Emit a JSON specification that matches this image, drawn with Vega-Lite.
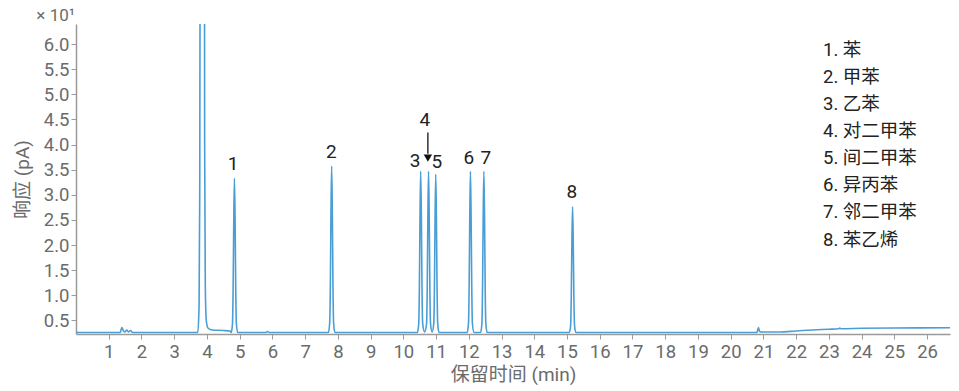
{
  "$schema": "https://vega.github.io/schema/vega-lite/v6.json",
  "width": 874,
  "height": 310,
  "autosize": {"type": "none"},
  "padding": {"left": 76, "top": 24, "right": 9, "bottom": 57},
  "config": {
    "view": {"stroke": null},
    "font": "Roboto, 'Noto Sans CJK SC'",
    "axis": {
      "labelFont": "Roboto, 'Noto Sans CJK SC'",
      "titleFont": "Roboto, 'Noto Sans CJK SC'",
      "labelFontSize": 18.5,
      "titleFontSize": 19,
      "titleFontWeight": "normal",
      "labelColor": "#6b6b6b",
      "titleColor": "#6b6b6b",
      "domainColor": "#9a9a9a",
      "tickColor": "#9a9a9a",
      "domainWidth": 1.5,
      "tickSize": 5,
      "grid": false
    }
  },
  "datasets": {
    "trace": [
      {"t": 0.0, "v": 0.26}, {"t": 1.35, "v": 0.26}, {"t": 1.4, "v": 0.36}, {"t": 1.45, "v": 0.29},
      {"t": 1.5, "v": 0.27}, {"t": 1.55, "v": 0.31}, {"t": 1.6, "v": 0.27}, {"t": 1.67, "v": 0.3},
      {"t": 1.72, "v": 0.26}, {"t": 3.72, "v": 0.26}, {"t": 3.76, "v": 0.8}, {"t": 3.78, "v": 3.0},
      {"t": 3.8, "v": 12}, {"t": 3.86, "v": 30}, {"t": 3.92, "v": 12}, {"t": 3.93, "v": 4},
      {"t": 3.95, "v": 1.2}, {"t": 3.98, "v": 0.5}, {"t": 4.03, "v": 0.35}, {"t": 4.15, "v": 0.31},
      {"t": 4.5, "v": 0.3}, {"t": 4.7, "v": 0.29}, {"t": 4.74, "v": 0.26},
      {"t": 4.78, "v": 0.43}, {"t": 4.8, "v": 1.12}, {"t": 4.82, "v": 2.5}, {"t": 4.84, "v": 3.33},
      {"t": 4.86, "v": 2.5}, {"t": 4.88, "v": 1.12}, {"t": 4.9, "v": 0.43}, {"t": 4.94, "v": 0.26},
      {"t": 5.8, "v": 0.26}, {"t": 5.85, "v": 0.28}, {"t": 5.9, "v": 0.26},
      {"t": 7.71, "v": 0.26}, {"t": 7.75, "v": 0.45}, {"t": 7.77, "v": 1.19}, {"t": 7.79, "v": 2.68},
      {"t": 7.81, "v": 3.57}, {"t": 7.83, "v": 2.68}, {"t": 7.85, "v": 1.19}, {"t": 7.87, "v": 0.45},
      {"t": 7.91, "v": 0.26},
      {"t": 10.43, "v": 0.26}, {"t": 10.47, "v": 0.44}, {"t": 10.49, "v": 1.16}, {"t": 10.51, "v": 2.6},
      {"t": 10.53, "v": 3.47}, {"t": 10.55, "v": 2.6}, {"t": 10.57, "v": 1.16}, {"t": 10.59, "v": 0.44},
      {"t": 10.65, "v": 0.27},
      {"t": 10.71, "v": 0.44}, {"t": 10.73, "v": 1.16}, {"t": 10.75, "v": 2.6}, {"t": 10.77, "v": 3.47},
      {"t": 10.79, "v": 2.6}, {"t": 10.81, "v": 1.16}, {"t": 10.83, "v": 0.44}, {"t": 10.88, "v": 0.27},
      {"t": 10.93, "v": 0.44}, {"t": 10.95, "v": 1.14}, {"t": 10.97, "v": 2.56}, {"t": 10.99, "v": 3.41},
      {"t": 11.01, "v": 2.56}, {"t": 11.03, "v": 1.14}, {"t": 11.05, "v": 0.44}, {"t": 11.09, "v": 0.26},
      {"t": 11.95, "v": 0.26}, {"t": 11.99, "v": 0.44}, {"t": 12.01, "v": 1.16}, {"t": 12.03, "v": 2.6},
      {"t": 12.05, "v": 3.47}, {"t": 12.07, "v": 2.6}, {"t": 12.09, "v": 1.16}, {"t": 12.11, "v": 0.44},
      {"t": 12.16, "v": 0.26},
      {"t": 12.36, "v": 0.26}, {"t": 12.4, "v": 0.44}, {"t": 12.42, "v": 1.16}, {"t": 12.44, "v": 2.6},
      {"t": 12.46, "v": 3.47}, {"t": 12.48, "v": 2.6}, {"t": 12.5, "v": 1.16}, {"t": 12.52, "v": 0.44},
      {"t": 12.56, "v": 0.26},
      {"t": 15.07, "v": 0.26}, {"t": 15.11, "v": 0.4}, {"t": 15.13, "v": 0.96}, {"t": 15.15, "v": 2.09},
      {"t": 15.17, "v": 2.76}, {"t": 15.19, "v": 2.09}, {"t": 15.21, "v": 0.96}, {"t": 15.23, "v": 0.4},
      {"t": 15.27, "v": 0.26},
      {"t": 20.8, "v": 0.26}, {"t": 20.85, "v": 0.36}, {"t": 20.88, "v": 0.28}, {"t": 20.95, "v": 0.27},
      {"t": 21.5, "v": 0.27}, {"t": 22.0, "v": 0.29}, {"t": 22.5, "v": 0.31}, {"t": 23.0, "v": 0.325},
      {"t": 23.3, "v": 0.335}, {"t": 23.33, "v": 0.35}, {"t": 23.38, "v": 0.335}, {"t": 24.0, "v": 0.345},
      {"t": 25.0, "v": 0.35}, {"t": 26.7, "v": 0.355}
    ],
    "peaks": [
      {"label": "1", "t": 4.8, "v": 3.61},
      {"label": "2", "t": 7.8, "v": 3.85},
      {"label": "3", "t": 10.36, "v": 3.67},
      {"label": "4", "t": 10.66, "v": 4.48},
      {"label": "5", "t": 11.02, "v": 3.65},
      {"label": "6", "t": 12.0, "v": 3.73},
      {"label": "7", "t": 12.52, "v": 3.73},
      {"label": "8", "t": 15.15, "v": 3.05}
    ],
    "legend": [
      {"text": "1. 苯", "t": 22.82, "v": 5.89},
      {"text": "2. 甲苯", "t": 22.82, "v": 5.35},
      {"text": "3. 乙苯", "t": 22.82, "v": 4.81},
      {"text": "4. 对二甲苯", "t": 22.82, "v": 4.27},
      {"text": "5. 间二甲苯", "t": 22.82, "v": 3.73},
      {"text": "6. 异丙苯", "t": 22.82, "v": 3.19},
      {"text": "7. 邻二甲苯", "t": 22.82, "v": 2.65},
      {"text": "8. 苯乙烯", "t": 22.82, "v": 2.11}
    ],
    "arrow": [{"t": 10.75, "v1": 4.24, "v2": 3.82, "head": 3.73}]
  },
  "layer": [
    {
      "data": {"name": "trace"},
      "mark": {"type": "line", "color": "#4a9ed6", "strokeWidth": 1.6, "clip": true, "interpolate": "monotone"},
      "encoding": {
        "x": {"field": "t", "type": "quantitative", "scale": {"domain": [0, 26.7], "nice": false, "zero": false},
          "axis": {"title": "保留时间 (min)", "values": [1,2,3,4,5,6,7,8,9,10,11,12,13,14,15,16,17,18,19,20,21,22,23,24,25,26], "tickCount": 40, "format": "d", "labelOverlap": false, "labelPadding": 3, "titlePadding": 5}},
        "y": {"field": "v", "type": "quantitative", "scale": {"domain": [0.23, 6.4], "nice": false, "zero": false},
          "axis": {"title": "响应 (pA)", "values": [0.5,1.0,1.5,2.0,2.5,3.0,3.5,4.0,4.5,5.0,5.5,6.0], "tickCount": 20, "format": ".1f", "labelOverlap": false, "labelPadding": 2, "titlePadding": 11}}
      }
    },
    {
      "data": {"name": "peaks"},
      "mark": {"type": "text", "fontSize": 19, "color": "#222", "align": "center", "baseline": "middle"},
      "encoding": {
        "x": {"field": "t", "type": "quantitative"},
        "y": {"field": "v", "type": "quantitative"},
        "text": {"field": "label"}
      }
    },
    {
      "data": {"name": "legend"},
      "mark": {"type": "text", "fontSize": 18.5, "color": "#222", "align": "left", "baseline": "middle"},
      "encoding": {
        "x": {"field": "t", "type": "quantitative"},
        "y": {"field": "v", "type": "quantitative"},
        "text": {"field": "text"}
      }
    },
    {
      "data": {"name": "arrow"},
      "mark": {"type": "rule", "color": "#111", "strokeWidth": 1.3},
      "encoding": {
        "x": {"field": "t", "type": "quantitative"},
        "y": {"field": "v1", "type": "quantitative"},
        "y2": {"field": "v2"}
      }
    },
    {
      "data": {"name": "arrow"},
      "mark": {"type": "point", "shape": "triangle-down", "filled": true, "color": "#111", "size": 70, "opacity": 1},
      "encoding": {
        "x": {"field": "t", "type": "quantitative"},
        "y": {"field": "head", "type": "quantitative"}
      }
    },
    {
      "data": {"values": [{"s": "× 10¹"}]},
      "mark": {"type": "text", "fontSize": 17, "color": "#6b6b6b", "align": "right", "baseline": "middle", "dx": -1, "dy": -8},
      "encoding": {
        "x": {"datum": 0, "type": "quantitative"},
        "y": {"datum": 6.4, "type": "quantitative"},
        "text": {"field": "s"}
      }
    }
  ]
}
